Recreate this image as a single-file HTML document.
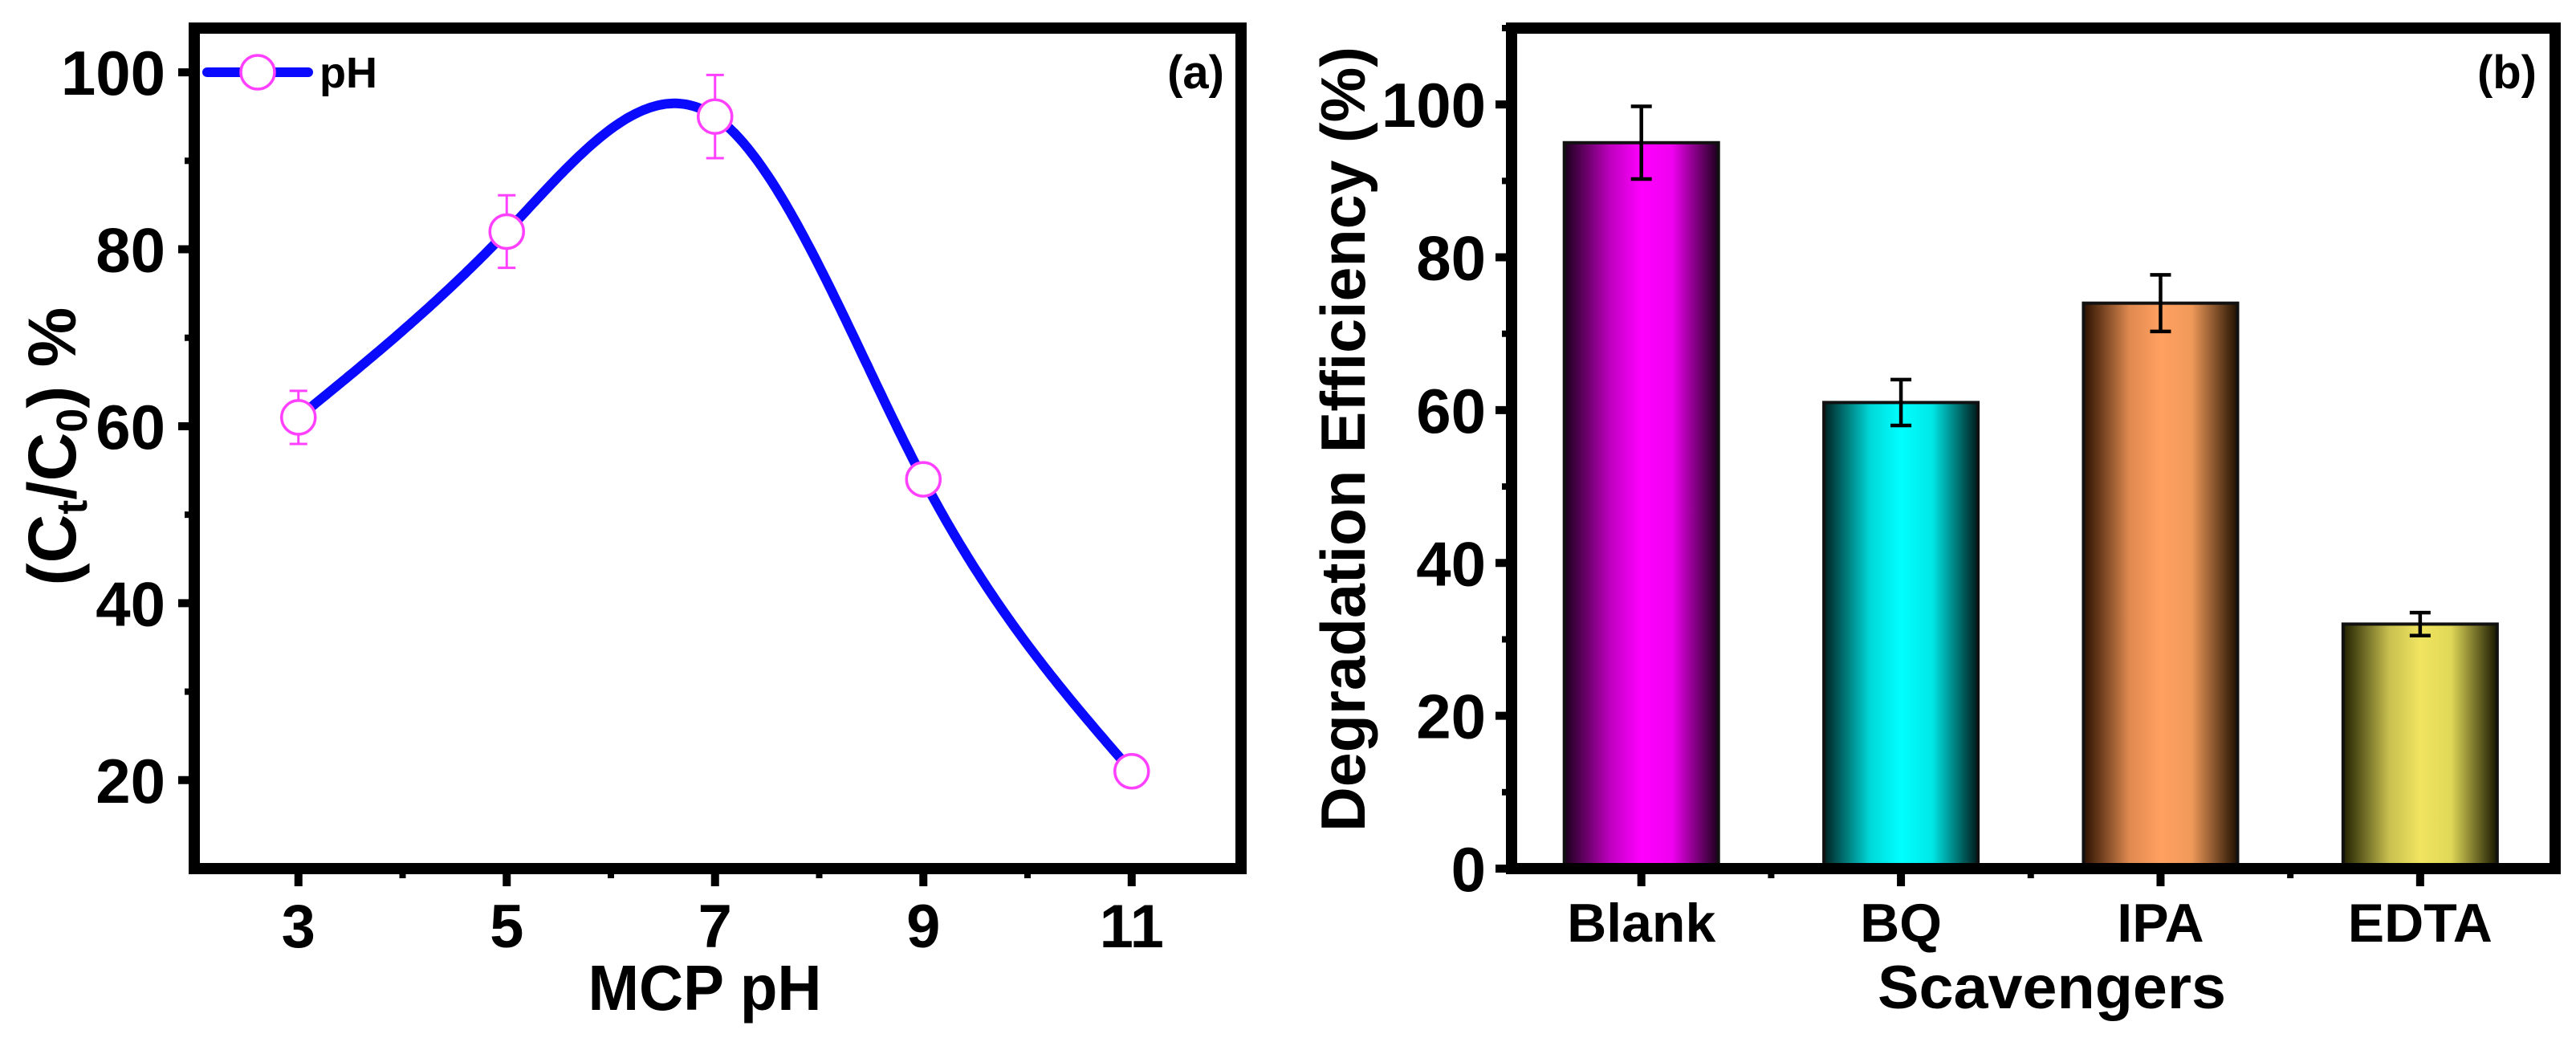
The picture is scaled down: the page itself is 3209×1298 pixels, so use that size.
<!DOCTYPE html>
<html><head><meta charset="utf-8">
<style>
html,body{margin:0;padding:0;background:#fff;}
svg{display:block;font-family:"Liberation Sans",Arial,sans-serif;font-weight:bold;}
</style></head>
<body>
<svg id="chart" width="3209" height="1298" viewBox="0 0 3209 1298" xmlns="http://www.w3.org/2000/svg">
<defs>
<linearGradient id="gBlank" x1="0" x2="1" y1="0" y2="0"><stop offset="0" stop-color="#1a001a"/><stop offset="0.3" stop-color="#c000c0"/><stop offset="0.5" stop-color="#ff00ff"/><stop offset="0.7" stop-color="#f000f0"/><stop offset="1" stop-color="#1a001a"/></linearGradient>
<linearGradient id="gBQ" x1="0" x2="1" y1="0" y2="0"><stop offset="0" stop-color="#002020"/><stop offset="0.3" stop-color="#00d8d8"/><stop offset="0.5" stop-color="#00ffff"/><stop offset="0.7" stop-color="#00e8e8"/><stop offset="1" stop-color="#001a1a"/></linearGradient>
<linearGradient id="gIPA" x1="0" x2="1" y1="0" y2="0"><stop offset="0" stop-color="#2a1000"/><stop offset="0.3" stop-color="#e08a50"/><stop offset="0.5" stop-color="#ffa060"/><stop offset="0.7" stop-color="#f09a5a"/><stop offset="1" stop-color="#201000"/></linearGradient>
<linearGradient id="gEDTA" x1="0" x2="1" y1="0" y2="0"><stop offset="0" stop-color="#202000"/><stop offset="0.3" stop-color="#c8c050"/><stop offset="0.5" stop-color="#f0e460"/><stop offset="0.7" stop-color="#e0d858"/><stop offset="1" stop-color="#181800"/></linearGradient>
</defs>
<g id="pa"></g>
<g id="pb"></g>
</svg>
<script>
// Panel (a) data
const phValues = [3, 5, 7, 9, 11];
const phEfficiency = [61, 82, 95, 54, 21];
const phErrors = [3, 4.1, 4.7, 1, 0.8];
const phXTicks = [3, 5, 7, 9, 11];
const phYTicks = [20, 40, 60, 80, 100];
// Panel (b) data
const scavengerNames = ["Blank", "BQ", "IPA", "EDTA"];
const scavengerEfficiency = [95, 61, 74, 32];
const scavengerErrors = [4.75, 3, 3.7, 1.5];
const scavengerYTicks = [0, 20, 40, 60, 80, 100];

const NS = "http://www.w3.org/2000/svg";
function mk(parent, tag, attrs, text) {
  const e = document.createElementNS(NS, tag);
  for (const k in attrs) e.setAttribute(k, attrs[k]);
  if (text !== undefined) e.textContent = text;
  parent.appendChild(e);
  return e;
}

// ---------- Panel A ----------
const pa = document.getElementById("pa");
const A = {l:242, r:1546, t:35, b:1082, x0:2, x1:12.05, y0:10, y1:105};
const ax = v => A.l + (v - A.x0) / (A.x1 - A.x0) * (A.r - A.l);
const ay = v => A.b - (v - A.y0) / (A.y1 - A.y0) * (A.b - A.t);

for (const t of phYTicks) {
  const tk = mk(pa, "line", {x1:A.l-20, x2:A.l, y1:ay(t), y2:ay(t), stroke:"#000","stroke-width":10});
  
  
  const lb = mk(pa, "text", {x:A.l-36, y:ay(t)+28, "text-anchor":"end","font-size":78}, String(t));
  
  
}
for (let t = 30; t <= 90; t += 20) {
  const m = mk(pa, "line", {x1:A.l-12, x2:A.l, y1:ay(t), y2:ay(t), stroke:"#000","stroke-width":8});
  
  
}
for (const t of phXTicks) {
  const tk = mk(pa, "line", {x1:ax(t), x2:ax(t), y1:A.b, y2:A.b+22, stroke:"#000","stroke-width":10});
  
  
  const lb = mk(pa, "text", {x:ax(t), y:1180, "text-anchor":"middle","font-size":76}, String(t));
  
  
}
for (let t = 4; t <= 10; t += 2) {
  const m = mk(pa, "line", {x1:ax(t), x2:ax(t), y1:A.b, y2:A.b+12, stroke:"#000","stroke-width":8});
  
  
}

function spline(xs, ys) {
  const n = xs.length, h = [], al = [], l = [1], mu = [0], z = [0], c = new Array(n).fill(0), b = [], d = [];
  for (let i = 0; i < n-1; i++) h.push(xs[i+1]-xs[i]);
  for (let i = 1; i < n-1; i++) al[i] = 3/h[i]*(ys[i+1]-ys[i]) - 3/h[i-1]*(ys[i]-ys[i-1]);
  for (let i = 1; i < n-1; i++) { l[i] = 2*(xs[i+1]-xs[i-1]) - h[i-1]*mu[i-1]; mu[i] = h[i]/l[i]; z[i] = (al[i]-h[i-1]*z[i-1])/l[i]; }
  l[n-1] = 1; z[n-1] = 0;
  for (let j = n-2; j >= 0; j--) { c[j] = z[j] - mu[j]*c[j+1]; b[j] = (ys[j+1]-ys[j])/h[j] - h[j]*(c[j+1]+2*c[j])/3; d[j] = (c[j+1]-c[j])/(3*h[j]); }
  return x => { let i = n-2; for (let k = 0; k < n-1; k++) if (x <= xs[k+1]) { i = k; break; } const dx = x-xs[i]; return ys[i]+b[i]*dx+c[i]*dx*dx+d[i]*dx*dx*dx; };
}
const sf = spline(phValues, phEfficiency);
let dstr = "";
const xa = phValues[0], xb = phValues[phValues.length-1];
for (let i = 0; i <= 300; i++) { const x = xa + (xb-xa)*i/300; dstr += (i ? "L" : "M") + ax(x).toFixed(1) + "," + ay(sf(x)).toFixed(1); }
const curve = mk(pa, "path", {d:dstr, fill:"none", stroke:"#0a0aff","stroke-width":12,"stroke-linejoin":"round","stroke-linecap":"round"});



phValues.forEach((x, i) => {
  const y = phEfficiency[i], e = phErrors[i];
  const eb = mk(pa, "path", {d:`M${ax(x)},${ay(y+e)}V${ay(y-e)}M${ax(x)-11},${ay(y+e)}h22M${ax(x)-11},${ay(y-e)}h22`, stroke:"#ff40ff","stroke-width":3,fill:"none"});
  
  
  const c = mk(pa, "circle", {cx:ax(x), cy:ay(y), r:21, fill:"#fff", stroke:"#ff40ff","stroke-width":3.5});
  
  
});

const fa = mk(pa, "rect", {x:A.l, y:A.t, width:A.r-A.l, height:A.b-A.t, fill:"none", stroke:"#000","stroke-width":14});



const lg = mk(pa, "g", {});


mk(lg, "line", {x1:258, x2:384, y1:90, y2:90, stroke:"#0a0aff","stroke-width":12,"stroke-linecap":"round"});
mk(lg, "circle", {cx:321, cy:90, r:21, fill:"#fff", stroke:"#ff40ff","stroke-width":3.5});
mk(lg, "text", {x:398, y:109, "font-size":54}, "pH");
const la = mk(pa, "text", {x:1525, y:110, "text-anchor":"end","font-size":58}, "(a)");



const ta = mk(pa, "text", {transform:"translate(94,556) rotate(-90)", "text-anchor":"middle","font-size":84});


mk(ta, "tspan", {}, "(C");
mk(ta, "tspan", {"font-size":54, dy:14}, "t");
mk(ta, "tspan", {dy:-14}, "/C");
mk(ta, "tspan", {"font-size":54, dy:14}, "0");
mk(ta, "tspan", {dy:-14}, ") %");
const xta = mk(pa, "text", {x:878, y:1258, "text-anchor":"middle","font-size":80, textLength:291, lengthAdjust:"spacingAndGlyphs"}, "MCP pH");



// ---------- Panel B ----------
const pb = document.getElementById("pb");
const B = {l:1883, r:3183, t:35, b:1082, x0:-0.5, x1:3.52, y0:0, y1:110};
const bx = v => B.l + (v - B.x0) / (B.x1 - B.x0) * (B.r - B.l);
const by = v => B.b - (v - B.y0) / (B.y1 - B.y0) * (B.b - B.t);
const bw = 192;
const grads = ["gBlank", "gBQ", "gIPA", "gEDTA"];

for (const t of scavengerYTicks) {
  const tk = mk(pb, "line", {x1:B.l-20, x2:B.l, y1:by(t), y2:by(t), stroke:"#000","stroke-width":10});
  
  
  const lb = mk(pb, "text", {x:B.l-32, y:by(t)+28, "text-anchor":"end","font-size":78}, String(t));
  
  
}
for (let t = 10; t <= 110; t += 20) {
  const m = mk(pb, "line", {x1:B.l-12, x2:B.l, y1:by(t), y2:by(t), stroke:"#000","stroke-width":8});
  
  
}
scavengerNames.forEach((name, i) => {
  const v = scavengerEfficiency[i], e = scavengerErrors[i];
  const bar = mk(pb, "rect", {x:bx(i)-bw/2, y:by(v), width:bw, height:by(0)-by(v), fill:`url(#${grads[i]})`, stroke:"#111","stroke-width":4});
  
  
  const eb = mk(pb, "path", {d:`M${bx(i)},${by(v+e)}V${by(v-e)}M${bx(i)-13},${by(v+e)}h26M${bx(i)-13},${by(v-e)}h26`, stroke:"#000","stroke-width":4.5,fill:"none"});
  
  
  const tk = mk(pb, "line", {x1:bx(i), x2:bx(i), y1:B.b, y2:B.b+22, stroke:"#000","stroke-width":10});
  
  
  const lb = mk(pb, "text", {x:bx(i), y:1173, "text-anchor":"middle","font-size":68}, name);
  
  
  if (i < scavengerNames.length - 1) {
    const m = mk(pb, "line", {x1:bx(i+0.5), x2:bx(i+0.5), y1:B.b, y2:B.b+12, stroke:"#000","stroke-width":8});
    
    
  }
});
const fb = mk(pb, "rect", {x:B.l, y:B.t, width:B.r-B.l, height:B.b-B.t, fill:"none", stroke:"#000","stroke-width":14});


const lbb = mk(pb, "text", {x:3160, y:110, "text-anchor":"end","font-size":58}, "(b)");


const tb = mk(pb, "text", {transform:"translate(1700,547) rotate(-90)", "text-anchor":"middle","font-size":78, textLength:978, lengthAdjust:"spacingAndGlyphs"}, "Degradation Efficiency (%)");


const xtb = mk(pb, "text", {x:2556, y:1256, "text-anchor":"middle","font-size":76, textLength:434, lengthAdjust:"spacingAndGlyphs"}, "Scavengers");


</script>
</body></html>
